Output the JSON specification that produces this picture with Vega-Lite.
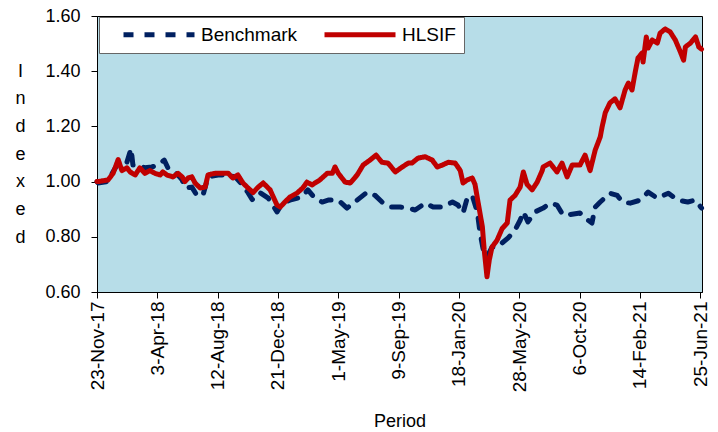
{
  "$schema": "https://vega.github.io/schema/vega-lite/v6.json",
  "width": 605,
  "height": 276,
  "autosize": {"type": "none"},
  "padding": {"left": 97, "top": 16, "right": 16, "bottom": 140},
  "background": "white",
  "config": {
    "font": "Liberation Sans",
    "view": {"fill": "#B7DDE8", "stroke": "black", "strokeWidth": 1}
  },
  "datasets": {
    "b": [
      {"date": "2017-11-23", "value": 1.0}, {"date": "2017-11-25", "value": 0.995}, {"date": "2017-12-17", "value": 1.0},
      {"date": "2017-12-26", "value": 1.03}, {"date": "2018-01-08", "value": 1.067}, {"date": "2018-01-27", "value": 1.07},
      {"date": "2018-02-05", "value": 1.12}, {"date": "2018-02-09", "value": 1.06}, {"date": "2018-02-20", "value": 1.06},
      {"date": "2018-03-07", "value": 1.05}, {"date": "2018-03-22", "value": 1.053}, {"date": "2018-04-05", "value": 1.06},
      {"date": "2018-04-18", "value": 1.078}, {"date": "2018-04-26", "value": 1.05}, {"date": "2018-05-12", "value": 1.035},
      {"date": "2018-05-27", "value": 1.006}, {"date": "2018-06-02", "value": 0.977}, {"date": "2018-06-17", "value": 0.98},
      {"date": "2018-06-28", "value": 0.95}, {"date": "2018-07-11", "value": 0.95}, {"date": "2018-07-22", "value": 1.017},
      {"date": "2018-08-13", "value": 1.024}, {"date": "2018-09-04", "value": 1.024}, {"date": "2018-09-19", "value": 1.017},
      {"date": "2018-10-04", "value": 0.99}, {"date": "2018-10-17", "value": 0.96}, {"date": "2018-10-26", "value": 0.935},
      {"date": "2018-11-12", "value": 0.96}, {"date": "2018-11-30", "value": 0.94}, {"date": "2018-12-19", "value": 0.89},
      {"date": "2018-12-30", "value": 0.922}, {"date": "2019-01-16", "value": 0.933}, {"date": "2019-02-11", "value": 0.944},
      {"date": "2019-02-24", "value": 0.97}, {"date": "2019-03-11", "value": 0.94}, {"date": "2019-03-27", "value": 0.926},
      {"date": "2019-04-09", "value": 0.933}, {"date": "2019-05-01", "value": 0.933}, {"date": "2019-05-20", "value": 0.904},
      {"date": "2019-06-11", "value": 0.933}, {"date": "2019-07-03", "value": 0.962}, {"date": "2019-07-20", "value": 0.95},
      {"date": "2019-08-04", "value": 0.926}, {"date": "2019-08-22", "value": 0.908}, {"date": "2019-09-12", "value": 0.908},
      {"date": "2019-09-30", "value": 0.904}, {"date": "2019-10-15", "value": 0.897}, {"date": "2019-11-06", "value": 0.922},
      {"date": "2019-11-23", "value": 0.908}, {"date": "2019-12-13", "value": 0.908}, {"date": "2020-01-04", "value": 0.926},
      {"date": "2020-01-16", "value": 0.915}, {"date": "2020-01-27", "value": 0.886}, {"date": "2020-02-05", "value": 0.94},
      {"date": "2020-02-16", "value": 0.95}, {"date": "2020-02-27", "value": 0.89}, {"date": "2020-03-04", "value": 0.814},
      {"date": "2020-03-11", "value": 0.752}, {"date": "2020-03-19", "value": 0.727}, {"date": "2020-03-30", "value": 0.763},
      {"date": "2020-04-10", "value": 0.763}, {"date": "2020-04-21", "value": 0.778}, {"date": "2020-05-04", "value": 0.796},
      {"date": "2020-05-19", "value": 0.825}, {"date": "2020-05-30", "value": 0.86}, {"date": "2020-06-06", "value": 0.89},
      {"date": "2020-06-16", "value": 0.854}, {"date": "2020-07-01", "value": 0.89}, {"date": "2020-07-19", "value": 0.904},
      {"date": "2020-08-03", "value": 0.922}, {"date": "2020-08-18", "value": 0.915}, {"date": "2020-08-31", "value": 0.879},
      {"date": "2020-09-09", "value": 0.879}, {"date": "2020-10-07", "value": 0.886}, {"date": "2020-10-18", "value": 0.868},
      {"date": "2020-11-02", "value": 0.85}, {"date": "2020-11-09", "value": 0.908}, {"date": "2020-11-20", "value": 0.926},
      {"date": "2020-12-11", "value": 0.958}, {"date": "2020-12-27", "value": 0.95}, {"date": "2021-01-07", "value": 0.926},
      {"date": "2021-01-24", "value": 0.922}, {"date": "2021-02-15", "value": 0.933}, {"date": "2021-03-04", "value": 0.962},
      {"date": "2021-03-24", "value": 0.94}, {"date": "2021-04-17", "value": 0.958}, {"date": "2021-05-07", "value": 0.933},
      {"date": "2021-05-29", "value": 0.926}, {"date": "2021-06-15", "value": 0.933}, {"date": "2021-06-28", "value": 0.904}
    ],
    "h": [
      {"date": "2017-11-23", "value": 1.0}, {"date": "2017-11-25", "value": 1.0}, {"date": "2017-12-17", "value": 1.006},
      {"date": "2017-12-28", "value": 1.03}, {"date": "2018-01-08", "value": 1.08}, {"date": "2018-01-16", "value": 1.04},
      {"date": "2018-01-27", "value": 1.05}, {"date": "2018-02-03", "value": 1.035}, {"date": "2018-02-14", "value": 1.024},
      {"date": "2018-02-24", "value": 1.05}, {"date": "2018-03-07", "value": 1.03}, {"date": "2018-03-18", "value": 1.04},
      {"date": "2018-03-29", "value": 1.03}, {"date": "2018-04-09", "value": 1.024}, {"date": "2018-04-15", "value": 1.035},
      {"date": "2018-04-24", "value": 1.024}, {"date": "2018-05-07", "value": 1.017}, {"date": "2018-05-18", "value": 1.03},
      {"date": "2018-05-27", "value": 1.017}, {"date": "2018-06-02", "value": 1.0}, {"date": "2018-06-09", "value": 1.013},
      {"date": "2018-06-17", "value": 1.017}, {"date": "2018-06-24", "value": 0.995}, {"date": "2018-07-05", "value": 0.977},
      {"date": "2018-07-16", "value": 0.98}, {"date": "2018-07-22", "value": 1.024}, {"date": "2018-08-06", "value": 1.03},
      {"date": "2018-08-22", "value": 1.03}, {"date": "2018-09-04", "value": 1.03}, {"date": "2018-09-14", "value": 1.013},
      {"date": "2018-09-25", "value": 1.024}, {"date": "2018-10-06", "value": 0.995}, {"date": "2018-10-17", "value": 0.977},
      {"date": "2018-10-28", "value": 0.96}, {"date": "2018-11-08", "value": 0.98}, {"date": "2018-11-19", "value": 0.995},
      {"date": "2018-12-04", "value": 0.97}, {"date": "2018-12-11", "value": 0.944}, {"date": "2018-12-19", "value": 0.915},
      {"date": "2018-12-26", "value": 0.908}, {"date": "2019-01-05", "value": 0.926}, {"date": "2019-01-16", "value": 0.944},
      {"date": "2019-01-31", "value": 0.958}, {"date": "2019-02-13", "value": 0.977}, {"date": "2019-02-22", "value": 0.998},
      {"date": "2019-03-05", "value": 0.988}, {"date": "2019-03-22", "value": 1.006}, {"date": "2019-04-07", "value": 1.03},
      {"date": "2019-04-18", "value": 1.03}, {"date": "2019-04-24", "value": 1.053}, {"date": "2019-05-01", "value": 1.03},
      {"date": "2019-05-16", "value": 0.998}, {"date": "2019-05-27", "value": 0.995}, {"date": "2019-06-11", "value": 1.024},
      {"date": "2019-06-24", "value": 1.06}, {"date": "2019-07-09", "value": 1.078}, {"date": "2019-07-22", "value": 1.096},
      {"date": "2019-08-04", "value": 1.07}, {"date": "2019-08-17", "value": 1.067}, {"date": "2019-09-02", "value": 1.035},
      {"date": "2019-09-17", "value": 1.053}, {"date": "2019-09-30", "value": 1.067}, {"date": "2019-10-08", "value": 1.067},
      {"date": "2019-10-21", "value": 1.085}, {"date": "2019-11-06", "value": 1.09}, {"date": "2019-11-21", "value": 1.078},
      {"date": "2019-12-02", "value": 1.053}, {"date": "2019-12-13", "value": 1.06}, {"date": "2019-12-26", "value": 1.07},
      {"date": "2020-01-10", "value": 1.067}, {"date": "2020-01-21", "value": 1.04}, {"date": "2020-01-27", "value": 0.995},
      {"date": "2020-02-05", "value": 1.006}, {"date": "2020-02-16", "value": 1.013}, {"date": "2020-02-22", "value": 0.99},
      {"date": "2020-02-29", "value": 0.922}, {"date": "2020-03-09", "value": 0.836}, {"date": "2020-03-13", "value": 0.752},
      {"date": "2020-03-19", "value": 0.655}, {"date": "2020-03-24", "value": 0.716}, {"date": "2020-03-30", "value": 0.763},
      {"date": "2020-04-10", "value": 0.788}, {"date": "2020-04-21", "value": 0.83}, {"date": "2020-05-02", "value": 0.85},
      {"date": "2020-05-08", "value": 0.933}, {"date": "2020-05-19", "value": 0.95}, {"date": "2020-05-30", "value": 0.98},
      {"date": "2020-06-06", "value": 1.035}, {"date": "2020-06-14", "value": 0.99}, {"date": "2020-06-25", "value": 0.97},
      {"date": "2020-07-06", "value": 0.998}, {"date": "2020-07-17", "value": 1.04}, {"date": "2020-07-19", "value": 1.053},
      {"date": "2020-08-03", "value": 1.067}, {"date": "2020-08-18", "value": 1.035}, {"date": "2020-08-29", "value": 1.067},
      {"date": "2020-09-09", "value": 1.017}, {"date": "2020-09-20", "value": 1.06}, {"date": "2020-10-07", "value": 1.06},
      {"date": "2020-10-18", "value": 1.096}, {"date": "2020-10-29", "value": 1.04}, {"date": "2020-11-09", "value": 1.114},
      {"date": "2020-11-20", "value": 1.162}, {"date": "2020-11-24", "value": 1.198}, {"date": "2020-12-01", "value": 1.25},
      {"date": "2020-12-11", "value": 1.285}, {"date": "2020-12-22", "value": 1.3}, {"date": "2021-01-02", "value": 1.267},
      {"date": "2021-01-13", "value": 1.332}, {"date": "2021-01-20", "value": 1.357}, {"date": "2021-01-28", "value": 1.332},
      {"date": "2021-02-04", "value": 1.397}, {"date": "2021-02-10", "value": 1.448}, {"date": "2021-02-19", "value": 1.466},
      {"date": "2021-02-21", "value": 1.433}, {"date": "2021-02-28", "value": 1.524}, {"date": "2021-03-04", "value": 1.484},
      {"date": "2021-03-13", "value": 1.513}, {"date": "2021-03-24", "value": 1.502}, {"date": "2021-03-30", "value": 1.538},
      {"date": "2021-04-10", "value": 1.553}, {"date": "2021-04-21", "value": 1.542}, {"date": "2021-05-02", "value": 1.513},
      {"date": "2021-05-13", "value": 1.47}, {"date": "2021-05-20", "value": 1.44}, {"date": "2021-05-24", "value": 1.488},
      {"date": "2021-06-04", "value": 1.502}, {"date": "2021-06-15", "value": 1.524}, {"date": "2021-06-22", "value": 1.488},
      {"date": "2021-06-28", "value": 1.48}
    ]
  },
  "encoding": {
    "x": {
      "field": "date",
      "type": "temporal",
      "scale": {
        "type": "utc",
        "domain": [
          {"year": 2017, "month": 11, "date": 23, "utc": true},
          {"year": 2021, "month": 6, "date": 29, "utc": true}
        ]
      },
      "axis": {
        "values": [
          {"year": 2017, "month": 11, "date": 23, "utc": true},
          {"year": 2018, "month": 4, "date": 3, "utc": true},
          {"year": 2018, "month": 8, "date": 12, "utc": true},
          {"year": 2018, "month": 12, "date": 21, "utc": true},
          {"year": 2019, "month": 5, "date": 1, "utc": true},
          {"year": 2019, "month": 9, "date": 9, "utc": true},
          {"year": 2020, "month": 1, "date": 18, "utc": true},
          {"year": 2020, "month": 5, "date": 28, "utc": true},
          {"year": 2020, "month": 10, "date": 6, "utc": true},
          {"year": 2021, "month": 2, "date": 14, "utc": true},
          {"year": 2021, "month": 6, "date": 25, "utc": true}
        ],
        "format": "%-d-%b-%y",
        "labelAngle": -90,
        "labelAlign": "right",
        "labelBaseline": "middle",
        "labelFontSize": 19,
        "labelColor": "black",
        "labelPadding": 3,
        "labelFlush": false,
        "labelOverlap": false,
        "tickColor": "black",
        "tickSize": 6,
        "domainColor": "black",
        "grid": false,
        "title": "Period",
        "titleFontSize": 18,
        "titleFontWeight": "normal",
        "titleColor": "black",
        "titleY": 129,
        "titleBaseline": "middle"
      }
    },
    "y": {
      "field": "value",
      "type": "quantitative",
      "scale": {"domain": [0.6, 1.6], "nice": false, "zero": false},
      "axis": {
        "values": [0.6, 0.8, 1.0, 1.2, 1.4, 1.6],
        "format": ".2f",
        "labelFontSize": 18,
        "labelColor": "black",
        "labelPadding": 11,
        "tickColor": "black",
        "tickSize": 6,
        "domainColor": "black",
        "grid": false,
        "title": ["I", "n", "d", "e", "x", "e", "d"],
        "titleAngle": 0,
        "titleFontSize": 18,
        "titleFontWeight": "normal",
        "titleColor": "black",
        "titleLineHeight": 27.7,
        "titleX": -77,
        "titleY": 55,
        "titleAlign": "center",
        "titleBaseline": "middle"
      }
    },
    "color": {
      "type": "nominal",
      "scale": {"domain": ["Benchmark", "HLSIF"], "range": ["#002060", "#C00000"]},
      "legend": {
        "orient": "none",
        "legendX": 2,
        "legendY": 1,
        "direction": "horizontal",
        "title": null,
        "fillColor": "white",
        "strokeColor": "#666666",
        "padding": 8,
        "symbolType": "stroke",
        "symbolSize": 5041,
        "symbolStrokeWidth": 5,
        "symbolOffset": 14,
        "clipHeight": 19,
        "labelFontSize": 19,
        "labelColor": "black",
        "labelOffset": 4,
        "columnPadding": 10
      }
    },
    "strokeDash": {
      "type": "nominal",
      "scale": {"domain": ["Benchmark", "HLSIF"], "range": [[10, 11], [1, 0]]},
      "legend": {
        "orient": "none",
        "legendX": 2,
        "legendY": 1,
        "direction": "horizontal",
        "title": null,
        "fillColor": "white",
        "strokeColor": "#666666",
        "padding": 8,
        "symbolType": "stroke",
        "symbolSize": 5041,
        "symbolStrokeWidth": 5,
        "symbolOffset": 14,
        "clipHeight": 19,
        "labelFontSize": 19,
        "labelColor": "black",
        "labelOffset": 4,
        "columnPadding": 10
      }
    }
  },
  "layer": [
    {
      "data": {"name": "b"},
      "mark": {"type": "line", "strokeWidth": 5, "strokeCap": "round", "strokeJoin": "round"},
      "encoding": {
        "color": {"datum": "Benchmark"},
        "strokeDash": {"datum": "Benchmark"}
      }
    },
    {
      "data": {"name": "h"},
      "mark": {"type": "line", "strokeWidth": 5, "strokeCap": "round", "strokeJoin": "round"},
      "encoding": {
        "color": {"datum": "HLSIF"},
        "strokeDash": {"datum": "HLSIF"}
      }
    }
  ]
}
